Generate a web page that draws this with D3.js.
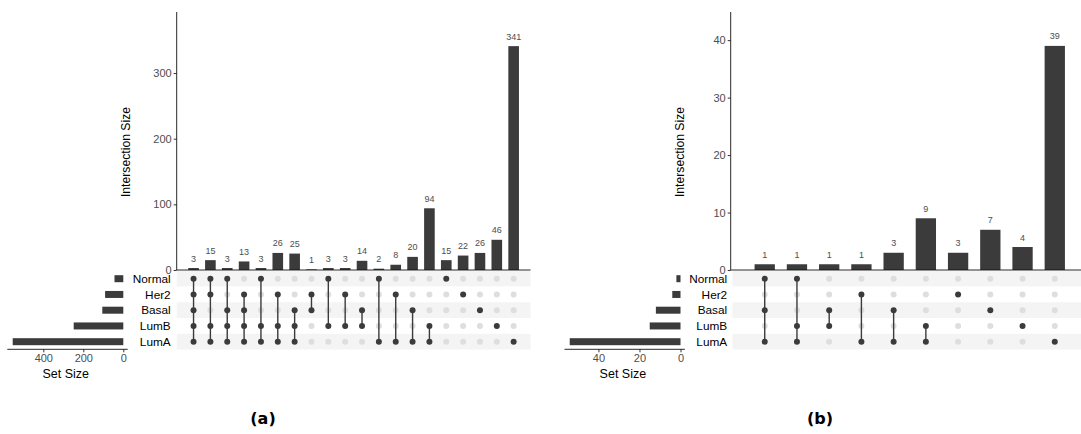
<!DOCTYPE html>
<html>
<head>
<meta charset="utf-8">
<script src="https://cdn.jsdelivr.net/npm/d3@7/dist/d3.min.js"></script>
<style>
  html, body { margin: 0; padding: 0; background: #fff; }
  svg { display: block; font-family: "Liberation Sans", Arial, Helvetica, sans-serif; }
</style>
</head>
<body>
<svg id="chart" width="1081" height="434"></svg>
<script>
// ---------- DATA ----------
const setNames = ["Normal", "Her2", "Basal", "LumB", "LumA"];

// Panel (a)
const setSizesA = [44, 91, 105, 248, 553];
const countsA = [3, 15, 3, 13, 3, 26, 25, 1, 3, 3, 14, 2, 8, 20, 94, 15, 22, 26, 46, 341];
const combosA = [
  ["Normal", "Her2", "Basal", "LumB", "LumA"],
  ["Normal", "Her2", "LumB", "LumA"],
  ["Normal", "Basal", "LumB", "LumA"],
  ["Her2", "Basal", "LumB", "LumA"],
  ["Normal", "LumB", "LumA"],
  ["Her2", "LumB", "LumA"],
  ["Basal", "LumB", "LumA"],
  ["Her2", "Basal"],
  ["Normal", "LumB"],
  ["Her2", "LumB"],
  ["Basal", "LumB"],
  ["Normal", "LumA"],
  ["Her2", "LumA"],
  ["Basal", "LumA"],
  ["LumB", "LumA"],
  ["Normal"],
  ["Her2"],
  ["Basal"],
  ["LumB"],
  ["LumA"]
];
const yTicksA = [0, 100, 200, 300];
const setTicksA = [400, 200, 0];

// Panel (b)
const setSizesB = [2, 4, 12, 15, 54];
const countsB = [1, 1, 1, 1, 3, 9, 3, 7, 4, 39];
const combosB = [
  ["Normal", "Basal", "LumA"],
  ["Normal", "LumB", "LumA"],
  ["Basal", "LumB"],
  ["Her2", "LumA"],
  ["Basal", "LumA"],
  ["LumB", "LumA"],
  ["Her2"],
  ["Basal"],
  ["LumB"],
  ["LumA"]
];
const yTicksB = [0, 10, 20, 30, 40];
const setTicksB = [40, 20, 0];

const panelLabels = ["(a)", "(b)"];

// ---------- DRAWING ----------
const svg = d3.select("#chart");
const DARK = "#3b3b3b";
const GREYDOT = "#dedede";
const STRIPE = "#f4f4f4";
const TICKTXT = "#4d4d4d";

function drawPanel(cfg) {
  const g = svg.append("g");
  const n = cfg.counts.length;
  const idx = d3.range(n);

  const x = d3.scalePoint().domain(idx).range([cfg.bandLeft, cfg.bandRight]).padding(1);
  const step = x.step();
  const barW = step * 0.63;
  const y = d3.scaleLinear().domain([0, cfg.yMax]).range([270, 12]);
  const row = d3.scalePoint().domain(setNames).range([278.7, 341.7]);
  const rowH = row.step();
  const sx = d3.scaleLinear().domain([0, cfg.setMax]).range([cfg.setZero, cfg.setZero - 120]);

  // matrix stripes
  g.append("g").selectAll("rect").data(setNames).join("rect")
    .attr("x", cfg.bandLeft)
    .attr("width", cfg.bandRight - cfg.bandLeft)
    .attr("y", d => row(d) - rowH / 2)
    .attr("height", rowH)
    .attr("fill", (d, i) => i % 2 === 0 ? STRIPE : "#ffffff");

  // bars
  g.append("g").selectAll("rect").data(cfg.counts).join("rect")
    .attr("x", (d, i) => x(i) - barW / 2)
    .attr("width", barW)
    .attr("y", d => y(d))
    .attr("height", d => y(0) - y(d))
    .attr("fill", DARK);

  // bar labels
  g.append("g").selectAll("text").data(cfg.counts).join("text")
    .attr("x", (d, i) => x(i))
    .attr("y", d => y(d) - 6.5)
    .attr("text-anchor", "middle")
    .attr("font-size", 9)
    .attr("fill", TICKTXT)
    .text(d => d);

  // y axis
  const yAxis = g.append("g")
    .attr("transform", `translate(${cfg.axisX},0)`)
    .call(d3.axisLeft(y).tickValues(cfg.yTicks).tickSize(3).tickPadding(2).tickSizeOuter(0));
  yAxis.select(".domain").remove();
  yAxis.selectAll(".tick line").attr("stroke", "#333");
  yAxis.selectAll(".tick text").attr("fill", TICKTXT).attr("font-size", 11)
    .attr("font-family", "'Liberation Sans', Arial, sans-serif");
  g.append("line").attr("x1", cfg.axisX).attr("x2", cfg.axisX).attr("y1", 12).attr("y2", 270)
    .attr("stroke", "#111").attr("stroke-width", 0.9);
  g.append("line").attr("x1", cfg.axisX).attr("x2", cfg.bandRight).attr("y1", 270).attr("y2", 270)
    .attr("stroke", "#111").attr("stroke-width", 0.9);

  g.append("text")
    .attr("transform", `translate(${cfg.axisX - 51},152) rotate(-90)`)
    .attr("text-anchor", "middle")
    .attr("dy", "0.35em")
    .attr("font-size", 12.2)
    .attr("fill", "#000")
    .text("Intersection Size");

  // matrix dots: inactive first, then connectors, then active dots on top
  const dots = [];
  cfg.combos.forEach((c, i) => setNames.forEach(s => dots.push({ i, s, on: c.includes(s) })));
  g.append("g").selectAll("circle").data(dots.filter(d => !d.on)).join("circle")
    .attr("cx", d => x(d.i))
    .attr("cy", d => row(d.s))
    .attr("r", 3)
    .attr("fill", GREYDOT);

  const cons = g.append("g");
  cfg.combos.forEach((c, i) => {
    if (c.length < 2) return;
    const ys = c.map(s => row(s));
    cons.append("line")
      .attr("x1", x(i)).attr("x2", x(i))
      .attr("y1", d3.min(ys)).attr("y2", d3.max(ys))
      .attr("stroke", DARK).attr("stroke-width", 1.4);
  });

  g.append("g").selectAll("circle").data(dots.filter(d => d.on)).join("circle")
    .attr("cx", d => x(d.i))
    .attr("cy", d => row(d.s))
    .attr("r", 3)
    .attr("fill", DARK);

  // set names
  g.append("g").selectAll("text").data(setNames).join("text")
    .attr("x", cfg.labelRight)
    .attr("y", d => row(d))
    .attr("dy", "0.35em")
    .attr("text-anchor", "end")
    .attr("font-size", 11.8)
    .attr("fill", "#000")
    .text(d => d);

  // set size bars
  g.append("g").selectAll("rect").data(cfg.setSizes).join("rect")
    .attr("x", d => sx(d))
    .attr("width", d => sx(0) - sx(d))
    .attr("y", (d, i) => row(setNames[i]) - 3.5)
    .attr("height", 7)
    .attr("fill", DARK);

  const sAxis = g.append("g")
    .attr("transform", "translate(0,349.3)")
    .call(d3.axisBottom(sx).tickValues(cfg.setTicks).tickSize(3).tickPadding(2).tickSizeOuter(0));
  sAxis.select(".domain").remove();
  sAxis.selectAll(".tick line").attr("stroke", "#333");
  sAxis.selectAll(".tick text").attr("fill", TICKTXT).attr("font-size", 11)
    .attr("font-family", "'Liberation Sans', Arial, sans-serif");
  g.append("line").attr("x1", cfg.setZero - 116).attr("x2", cfg.setZero + 4.4)
    .attr("y1", 349.3).attr("y2", 349.3).attr("stroke", "#111").attr("stroke-width", 0.9);

  g.append("text")
    .attr("x", cfg.setZero - 57.6)
    .attr("y", 377.8)
    .attr("text-anchor", "middle")
    .attr("font-size", 12.5)
    .attr("fill", "#000")
    .text("Set Size");

  // panel label
  g.append("text")
    .attr("x", cfg.tagX)
    .attr("y", 424)
    .attr("text-anchor", "middle")
    .attr("font-family", "'DejaVu Sans', sans-serif")
    .attr("font-weight", "bold")
    .attr("font-size", 16)
    .attr("fill", "#000")
    .text(cfg.tag);
}

drawPanel({
  counts: countsA, combos: combosA, setSizes: setSizesA,
  yTicks: yTicksA, setTicks: setTicksA,
  yMax: 393, setMax: 600,
  axisX: 176.7, bandLeft: 176.7, bandRight: 530.5,
  setZero: 123.3, labelRight: 170.7, tagX: 263, tag: panelLabels[0]
});
drawPanel({
  counts: countsB, combos: combosB, setSizes: setSizesB,
  yTicks: yTicksB, setTicks: setTicksB,
  yMax: 44.9, setMax: 58.5,
  axisX: 730.7, bandLeft: 732.5, bandRight: 1087,
  setZero: 680.5, labelRight: 727.2, tagX: 820, tag: panelLabels[1]
});
</script>
</body>
</html>
